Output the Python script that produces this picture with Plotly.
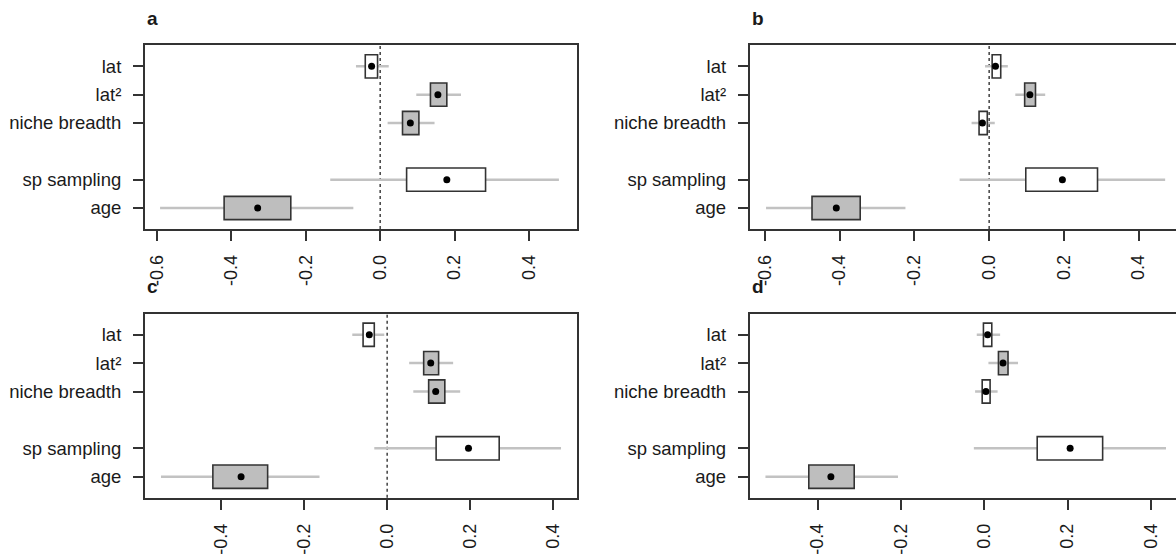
import plotly.graph_objects as go

# ---------------- data ----------------
row_labels = ["lat", "lat²", "niche breadth", "sp sampling", "age"]
row_pos = [6, 5, 4, 2, 1]

x_tick_vals = [-0.6, -0.4, -0.2, 0.0, 0.2, 0.4]
x_tick_text = ["-0.6", "-0.4", "-0.2", "0.0", "0.2", "0.4"]

panel_names = ["a", "b", "c", "d"]

# estimate (dot), inner interval (box), outer interval (whisker), significance (grey box)
a_mid = [-0.023, 0.155, 0.081, 0.179, -0.329]
a_box_lo = [-0.040, 0.135, 0.060, 0.071, -0.419]
a_box_hi = [-0.007, 0.179, 0.104, 0.283, -0.240]
a_ci_lo = [-0.065, 0.097, 0.020, -0.134, -0.591]
a_ci_hi = [0.023, 0.217, 0.146, 0.480, -0.072]
a_sig = [False, True, True, False, True]

b_mid = [0.017, 0.109, -0.018, 0.196, -0.409]
b_box_lo = [0.008, 0.095, -0.027, 0.098, -0.474]
b_box_hi = [0.031, 0.124, -0.005, 0.290, -0.345]
b_ci_lo = [-0.011, 0.070, -0.047, -0.079, -0.597]
b_ci_hi = [0.050, 0.150, 0.015, 0.471, -0.224]
b_sig = [False, True, False, False, True]

c_mid = [-0.043, 0.105, 0.117, 0.196, -0.352]
c_box_lo = [-0.058, 0.088, 0.100, 0.118, -0.420]
c_box_hi = [-0.031, 0.124, 0.139, 0.270, -0.288]
c_ci_lo = [-0.084, 0.053, 0.063, -0.031, -0.545]
c_ci_hi = [-0.007, 0.159, 0.176, 0.419, -0.163]
c_sig = [False, True, True, False, True]

d_mid = [0.008, 0.045, 0.004, 0.206, -0.368]
d_box_lo = [-0.002, 0.034, -0.005, 0.127, -0.421]
d_box_hi = [0.018, 0.057, 0.014, 0.284, -0.312]
d_ci_lo = [-0.018, 0.010, -0.022, -0.025, -0.525]
d_ci_hi = [0.038, 0.081, 0.032, 0.436, -0.207]
d_sig = [False, True, False, False, True]

panels = [
    (a_mid, a_box_lo, a_box_hi, a_ci_lo, a_ci_hi, a_sig),
    (b_mid, b_box_lo, b_box_hi, b_ci_lo, b_ci_hi, b_sig),
    (c_mid, c_box_lo, c_box_hi, c_ci_lo, c_ci_hi, c_sig),
    (d_mid, d_box_lo, d_box_hi, d_ci_lo, d_ci_hi, d_sig),
]
show_zero_line = [True, True, True, False]

# ---------------- layout geometry ----------------
W, H = 1176, 555
x_ranges = [[-0.632, 0.528], [-0.641, 0.500], [-0.584, 0.457], [-0.563, 0.460]]
x_domains = [[144.8 / W, 576.8 / W], [749.6 / W, 1.0],
             [144.8 / W, 576.8 / W], [749.6 / W, 1.0]]
top_dom = [1 - 232.3 / H, 1 - 46.0 / H]
bot_dom = [1 - 505.0 / H, 1 - 318.3 / H]
y_domains = [top_dom, top_dom, bot_dom, bot_dom]
title_pos = [(145, 18.5), (750, 18.5), (145, 290.8), (750, 290.8)]
mirror_y = [True, False, True, False]

FONT = "Liberation Sans, Arial, sans-serif"
TXT = "#1a1a1a"
FRAME = "#333333"
WHISK = "#c2c2c2"
FILL_SIG = "#bebebe"
FS = 18

fig = go.Figure()
layout = dict(
    width=W, height=H, margin=dict(l=0, r=0, t=0, b=0),
    paper_bgcolor="white", plot_bgcolor="white",
    showlegend=False, barmode="overlay",
    font=dict(family=FONT, color=TXT, size=FS),
    shapes=[], annotations=[],
)

for i, (mid, blo, bhi, clo, chi, sig) in enumerate(panels):
    n = "" if i == 0 else str(i + 1)
    xa, ya = "x" + n, "y" + n
    fills = [FILL_SIG if s else "white" for s in sig]
    # whiskers
    fig.add_trace(go.Bar(
        orientation="h", y=row_pos, base=clo,
        x=[h - l for l, h in zip(clo, chi)], width=0.088,
        marker=dict(color=WHISK, line=dict(width=0)),
        xaxis=xa, yaxis=ya, hoverinfo="skip"))
    # boxes
    fig.add_trace(go.Bar(
        orientation="h", y=row_pos, base=blo,
        x=[h - l for l, h in zip(blo, bhi)], width=0.82,
        marker=dict(color=fills, line=dict(color=FRAME, width=1.6)),
        xaxis=xa, yaxis=ya, hoverinfo="skip"))
    # point estimates
    fig.add_trace(go.Scatter(
        x=mid, y=row_pos, mode="markers",
        marker=dict(color="black", size=7),
        xaxis=xa, yaxis=ya, hoverinfo="skip"))

    layout["xaxis" + n] = dict(
        domain=x_domains[i], range=x_ranges[i], anchor=ya,
        tickmode="array", tickvals=x_tick_vals, ticktext=x_tick_text,
        tickangle=-90, ticks="outside", ticklen=10, tickwidth=1.5,
        tickcolor=FRAME, ticklabelstandoff=7,
        showline=True, linecolor=FRAME, linewidth=1.6, mirror=True,
        showgrid=False, zeroline=False,
        tickfont=dict(family=FONT, size=FS, color=TXT),
    )
    layout["yaxis" + n] = dict(
        domain=y_domains[i], range=[0.26, 6.74], anchor=xa,
        tickmode="array", tickvals=row_pos, ticktext=row_labels,
        ticks="outside", ticklen=10, tickwidth=1.5, tickcolor=FRAME,
        ticklabelstandoff=8,
        showline=True, linecolor=FRAME, linewidth=1.6, mirror=mirror_y[i],
        showgrid=False, zeroline=False,
        tickfont=dict(family=FONT, size=FS + 0.5, color=TXT),
    )
    if show_zero_line[i]:
        layout["shapes"].append(dict(
            type="line", xref=xa, yref=ya + " domain", x0=0, x1=0, y0=0, y1=1,
            line=dict(color=FRAME, width=1.4, dash="dot"), layer="below"))
    tx, ty = title_pos[i]
    layout["annotations"].append(dict(
        text="<b>%s</b>" % panel_names[i], xref="paper", yref="paper",
        x=tx / W, y=1 - ty / H, xanchor="left", yanchor="middle",
        showarrow=False, font=dict(family=FONT, size=19, color=TXT)))

fig.update_layout(**layout)
fig.write_html("out.html")
